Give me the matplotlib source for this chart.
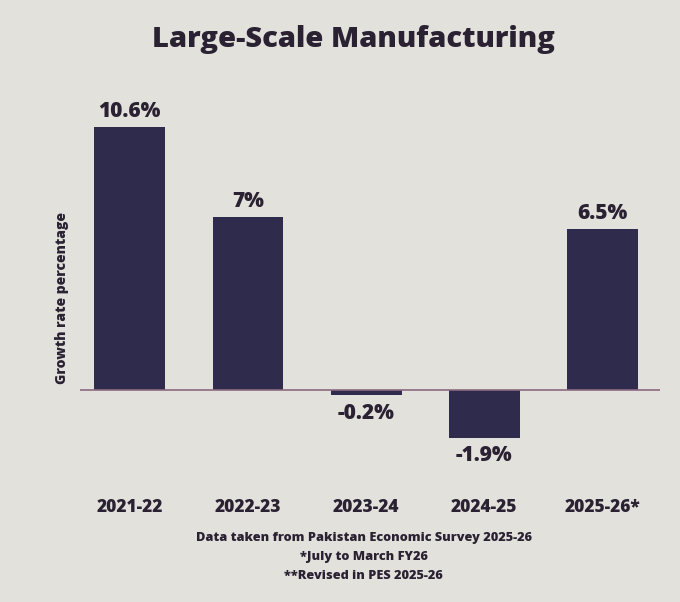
import matplotlib.pyplot as plt
import numpy as np

years = ["2021-22", "2022-23", "2023-24", "2024-25", "2025-26*"]
growth = [10.6, 7.0, -0.2, -1.9, 6.5]
value_labels = ["10.6%", "7%", "-0.2%", "-1.9%", "6.5%"]
notes = ["Data taken from Pakistan Economic Survey 2025-26",
         "*July to March FY26",
         "**Revised in PES 2025-26"]

plt.rcParams['font.family'] = ['Open Sans', 'DejaVu Sans']

paper = "#e3e1db"
bar_color = "#2f2b4c"
text_color = "#2a2233"

fig = plt.figure(figsize=(6.8, 6.02), dpi=100, facecolor=paper)
ax = fig.add_axes([0.118, 0.236, 0.853, 0.598])
ax.set_facecolor(paper)

x = np.arange(len(years))
ax.bar(x, growth, width=0.6, color=bar_color, zorder=2)
ax.axhline(0, color="#8c6a80", lw=1.2, zorder=3)

for xi, v, lab in zip(x, growth, value_labels):
    if v >= 0:
        ax.text(xi, v + 0.2, lab, ha="center", va="bottom", fontsize=15,
                fontweight="heavy", color=text_color)
    else:
        ax.text(xi, v - 0.3, lab, ha="center", va="top", fontsize=15,
                fontweight="heavy", color=text_color)

ax.set_xlim(-0.42, 4.49)
ax.set_ylim(-2.8, 11.7)
ax.set_xticks(x)
ax.set_xticklabels(years, fontsize=12.5, fontweight="heavy", color=text_color)
ax.tick_params(axis="x", length=0, pad=28)
ax.set_yticks([])
for s in ax.spines.values():
    s.set_visible(False)

ax.set_ylabel("Growth rate percentage", fontsize=10, fontweight="heavy",
              color=text_color)
ax.yaxis.set_label_coords(-0.02, 0.45)

fig.text(0.52, 0.935, "Large-Scale Manufacturing", ha="center", va="center",
         fontsize=21, fontweight="heavy", color=text_color)

for i, note in enumerate(notes):
    fig.text(0.535, 0.107 - i * 0.032, note, ha="center", va="center",
             fontsize=9.2, fontweight="heavy", color=text_color)

fig.savefig("out.png", dpi=100, facecolor=paper)
